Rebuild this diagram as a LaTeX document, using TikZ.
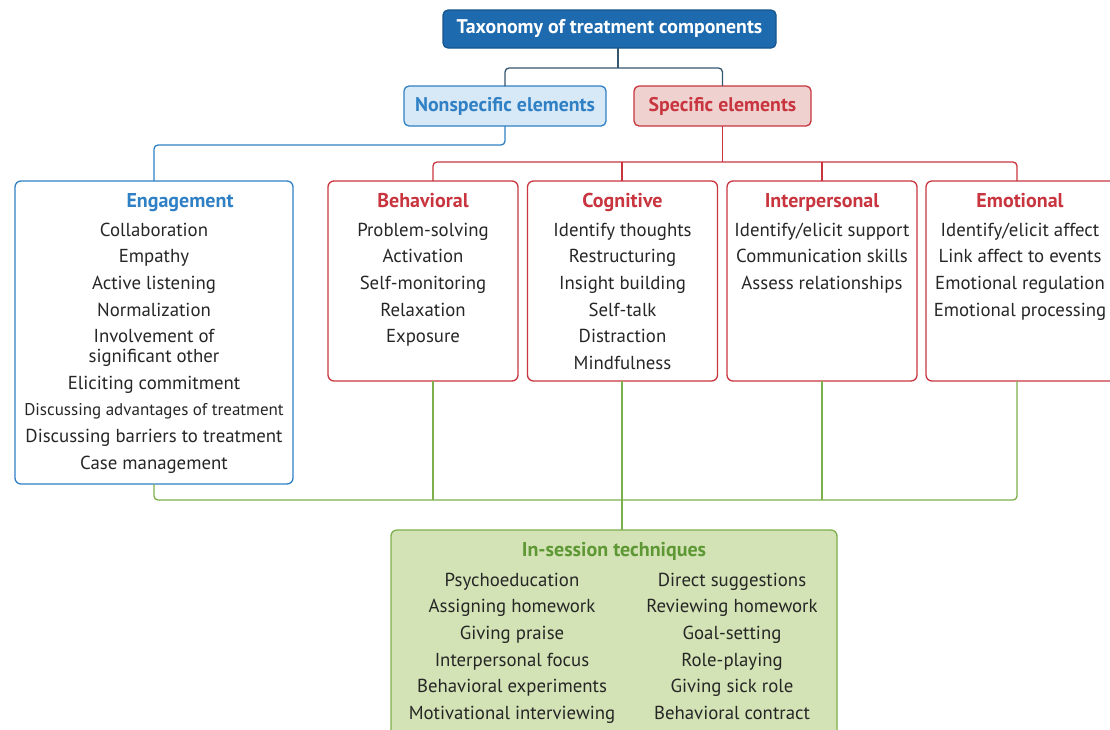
\documentclass[tikz,border=0pt]{standalone}
\usepackage{fontspec}
\setmainfont{PT Sans}
\usepackage{xcolor}
\usetikzlibrary{positioning,calc}

\definecolor{taxblue}{HTML}{1D6AAE}
\definecolor{taxbluedk}{HTML}{15568E}
\definecolor{nsblue}{HTML}{2F80C4}
\definecolor{nsfill}{HTML}{D7E8F7}
\definecolor{spred}{HTML}{C8353F}
\definecolor{spfill}{HTML}{EFD2D0}
\definecolor{isgreen}{HTML}{7DB04C}
\definecolor{isfill}{HTML}{D3E3B5}
\definecolor{istext}{HTML}{5E9834}
\definecolor{topline}{HTML}{35566F}
\definecolor{bodytext}{HTML}{262626}

\begin{document}
\begin{tikzpicture}[
  x=1pt, y=-1pt,
  every node/.style={inner sep=0pt, outer sep=0pt},
  headbox/.style={rectangle, rounded corners=5pt, line width=1.3pt,
              font=\fontsize{19.8}{22}\selectfont\bfseries},
  catbox/.style={rectangle, draw, rounded corners=6pt, line width=1.3pt,
              minimum width=190pt, minimum height=200pt},
  items/.style={anchor=north, align=center, text=bodytext,
              font=\fontsize{18.8}{26.6}\selectfont},
  ttl/.style={font=\fontsize{20}{26.6}\selectfont\bfseries},
  blueline/.style={nsblue, line width=1.3pt, rounded corners=4pt},
  redline/.style={spred, line width=1.3pt, rounded corners=4pt},
  greenline/.style={isgreen, line width=1.3pt, rounded corners=4pt},
  darkline/.style={topline, line width=1.3pt, rounded corners=4pt}
]
\useasboundingbox (0,0) rectangle (1110,729);

% Top levels
\node[headbox, fill=taxblue, draw=taxbluedk, text=white,
      minimum width=333pt, minimum height=38pt] (tax) at (609.5,29)
      {Taxonomy of treatment components};
\node[headbox, fill=nsfill, draw=nsblue, text=nsblue,
      minimum width=202pt, minimum height=40pt] (nonspec) at (505,106)
      {Nonspecific elements};
\node[headbox, fill=spfill, draw=spred, text=spred,
      minimum width=177pt, minimum height=40pt] (spec) at (722.5,106)
      {Specific elements};

% Element boxes
\node[catbox, draw=nsblue, minimum width=278pt, minimum height=303pt] (engage) at (154,332.5) {};
\node[catbox, draw=spred] (behav) at (423,281) {};
\node[catbox, draw=spred] (cogn)  at (622.5,281) {};
\node[catbox, draw=spred] (inter) at (822,281) {};
\node[catbox, draw=spred] (emot)  at (1021,281) {};

% In-session box
\node[rectangle, draw=isgreen, fill=isfill, line width=1.3pt, rounded corners=6pt,
      minimum width=446pt, minimum height=220pt] (insess) at (614,640) {};

% Branch points
\coordinate (split) at (618,68);
\coordinate (nsturn) at (505,145);
\coordinate (rb1) at (433,162);
\coordinate (rb2) at (622,162);
\coordinate (rb3) at (822,162);
\coordinate (rb4) at (1017,162);
\coordinate (gb0) at (154,500);
\coordinate (gb1) at (433,500);
\coordinate (gb2) at (622,500);
\coordinate (gb3) at (822,500);
\coordinate (gb4) at (1017,500);

% Connectors
\draw[darkline] (tax.south -| split) -- (split);
\draw[darkline] (nonspec.north) |- (split) -| (spec.north);
\draw[blueline] (nonspec.south) -- (nsturn) -| (engage.north);
\draw[redline] (spec.south) -- (spec.south |- rb1);
\draw[redline] (rb1 |- behav.north) -- (rb1) -- (rb4) -- (rb4 |- emot.north);
\draw[redline] (rb2) -- (rb2 |- cogn.north);
\draw[redline] (rb3) -- (rb3 |- inter.north);
\draw[greenline] (engage.south) -- (gb0) -- (gb4) -- (gb4 |- emot.south);
\draw[greenline] (gb1) -- (gb1 |- behav.south);
\draw[greenline] (gb2) -- (gb2 |- cogn.south);
\draw[greenline] (gb3) -- (gb3 |- inter.south);
\draw[greenline] (gb2) -- (gb2 |- insess.north);

% Texts
\node[items, text=nsblue, ttl] (engagettl) at (180,193) {Engagement};
\node[items] (engagetxt) at (154,223) {Collaboration\\Empathy\\Active listening\\Normalization\\
  Involvement of\\[-6.6pt]significant other\\Eliciting commitment\\
  {\fontsize{17}{26.6}\selectfont Discussing advantages of treatment}\\
  Discussing barriers to treatment\\Case management};

\node[items, text=spred, ttl] (behavttl) at (423,193) {Behavioral};
\node[items] (behavtxt) at (423,223) {Problem-solving\\Activation\\Self-monitoring\\Relaxation\\Exposure};

\node[items, text=spred, ttl] (cognttl) at (622.5,193) {Cognitive};
\node[items] (cogntxt) at (622.5,223) {Identify thoughts\\Restructuring\\Insight building\\Self-talk\\Distraction\\Mindfulness};

\node[items, text=spred, ttl] (interttl) at (822,193) {Interpersonal};
\node[items] (intertxt) at (822,223) {Identify/elicit support\\Communication skills\\Assess relationships};

\node[items, text=spred, ttl] (emotttl) at (1020,193) {Emotional};
\node[items] (emottxt) at (1020,223) {Identify/elicit affect\\Link affect to events\\Emotional regulation\\Emotional processing};

\node[items, text=istext, ttl] (insessttl) at (614,542) {In-session techniques};
\node[items] (insessl) at (512,573) {Psychoeducation\\Assigning homework\\Giving praise\\Interpersonal focus\\Behavioral experiments\\Motivational interviewing};
\node[items] (insessr) at (732,573) {Direct suggestions\\Reviewing homework\\Goal-setting\\Role-playing\\Giving sick role\\Behavioral contract};
\end{tikzpicture}
\end{document}
